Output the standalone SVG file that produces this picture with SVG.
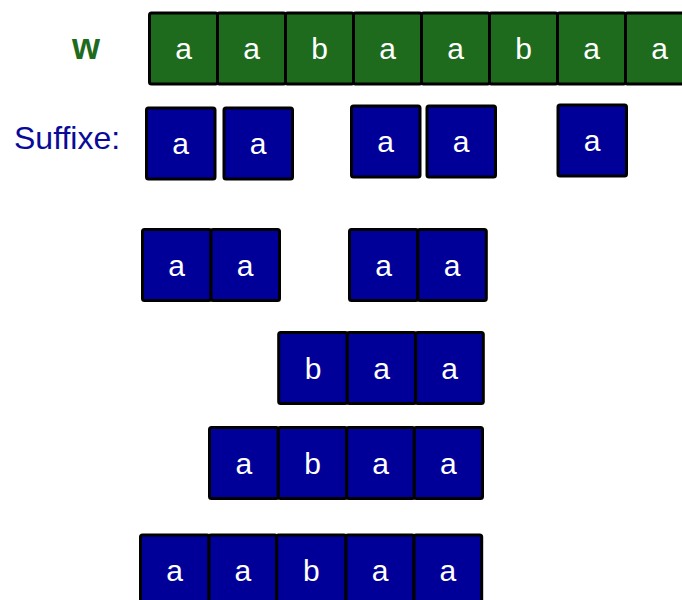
<svg xmlns="http://www.w3.org/2000/svg" width="682" height="600" viewBox="0 0 682 600">
<style>
.g{fill:#1e6b1e;stroke:#000;stroke-width:3;stroke-linejoin:round}
.b{fill:#000099;stroke:#000;stroke-width:3;stroke-linejoin:round}
.t{font-family:"Liberation Sans",Arial,sans-serif;font-size:30px;fill:#fff;text-anchor:middle}
</style>
<rect width="682" height="600" fill="#fff"/>
<text id="label-w" x="86" y="59" font-family="'Liberation Sans',Arial,sans-serif" font-size="36" font-weight="bold" fill="#1e6b1e" text-anchor="middle">w</text>
<text id="label-suffixe" x="14" y="149" font-family="'Liberation Sans',Arial,sans-serif" font-size="32" fill="#0a0a99">Suffixe:</text>
<g id="word">
<rect class="g" x="149.5" y="13" width="68" height="71" rx="2"/><text class="t" x="183.5" y="59">a</text>
<rect class="g" x="217.5" y="13" width="68" height="71" rx="2"/><text class="t" x="251.5" y="59">a</text>
<rect class="g" x="285.5" y="13" width="68" height="71" rx="2"/><text class="t" x="319.5" y="59">b</text>
<rect class="g" x="353.5" y="13" width="68" height="71" rx="2"/><text class="t" x="387.5" y="59">a</text>
<rect class="g" x="421.5" y="13" width="68" height="71" rx="2"/><text class="t" x="455.5" y="59">a</text>
<rect class="g" x="489.5" y="13" width="68" height="71" rx="2"/><text class="t" x="523.5" y="59">b</text>
<rect class="g" x="557.5" y="13" width="68" height="71" rx="2"/><text class="t" x="591.5" y="59">a</text>
<rect class="g" x="625.5" y="13" width="68" height="71" rx="2"/><text class="t" x="659.5" y="59">a</text>
</g>
<g id="suffix1">
<rect class="b" x="146.5" y="108" width="68.5" height="71" rx="2"/><text class="t" x="180.7" y="154">a</text>
<rect class="b" x="224" y="108" width="68.5" height="71" rx="2"/><text class="t" x="258.2" y="154">a</text>
<rect class="b" x="351.5" y="106" width="68.5" height="71" rx="2"/><text class="t" x="385.7" y="152">a</text>
<rect class="b" x="427" y="106" width="68.5" height="71" rx="2"/><text class="t" x="461.2" y="152">a</text>
<rect class="b" x="558" y="105" width="68.5" height="71" rx="2"/><text class="t" x="592.2" y="151">a</text>
</g>
<g id="suffix2">
<rect class="b" x="142.5" y="229.5" width="68.5" height="71" rx="2"/><text class="t" x="176.7" y="276">a</text>
<rect class="b" x="211" y="229.5" width="68.5" height="71" rx="2"/><text class="t" x="245.2" y="276">a</text>
<rect class="b" x="349.5" y="229.5" width="68.3" height="71" rx="2"/><text class="t" x="383.6" y="276">a</text>
<rect class="b" x="417.8" y="229.5" width="68.5" height="71" rx="2"/><text class="t" x="452" y="276">a</text>
</g>
<g id="suffix3">
<rect class="b" x="278.7" y="332.5" width="68.6" height="71" rx="2"/><text class="t" x="313" y="379">b</text>
<rect class="b" x="347.3" y="332.5" width="68.4" height="71" rx="2"/><text class="t" x="381.5" y="379">a</text>
<rect class="b" x="415.7" y="332.5" width="67.6" height="71" rx="2"/><text class="t" x="449.5" y="379">a</text>
</g>
<g id="suffix4">
<rect class="b" x="209.5" y="427.5" width="68.8" height="71" rx="2"/><text class="t" x="243.9" y="474">a</text>
<rect class="b" x="278.3" y="427.5" width="68.4" height="71" rx="2"/><text class="t" x="312.5" y="474">b</text>
<rect class="b" x="346.7" y="427.5" width="67.6" height="71" rx="2"/><text class="t" x="380.5" y="474">a</text>
<rect class="b" x="414.3" y="427.5" width="68.2" height="71" rx="2"/><text class="t" x="448.4" y="474">a</text>
</g>
<g id="suffix5">
<rect class="b" x="140.5" y="535" width="68.5" height="71" rx="2"/><text class="t" x="174.7" y="581">a</text>
<rect class="b" x="209" y="535" width="67.7" height="71" rx="2"/><text class="t" x="242.8" y="581">a</text>
<rect class="b" x="276.7" y="535" width="69.3" height="71" rx="2"/><text class="t" x="311.3" y="581">b</text>
<rect class="b" x="346" y="535" width="68" height="71" rx="2"/><text class="t" x="380" y="581">a</text>
<rect class="b" x="414" y="535" width="67.7" height="71" rx="2"/><text class="t" x="447.8" y="581">a</text>
</g>
<g id="connectors"></g>
</svg>
